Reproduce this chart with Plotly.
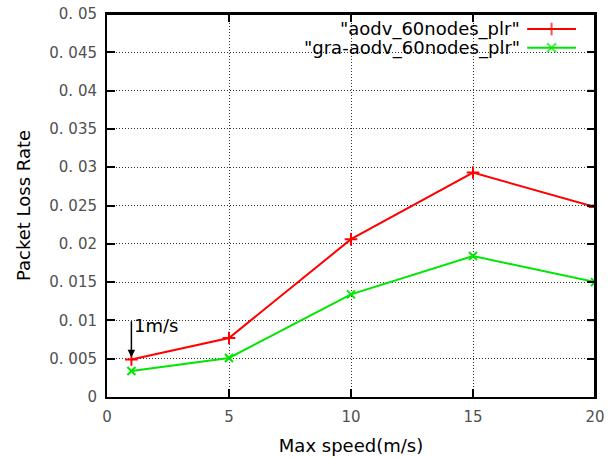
import plotly.graph_objects as go

speeds = [1, 5, 10, 15, 20]
aodv_plr = [0.0049, 0.0077, 0.0206, 0.0293, 0.0248]
gra_aodv_plr = [0.0034, 0.0051, 0.0134, 0.0184, 0.0150]
series_names = ['"aodv_60nodes_plr"', '"gra-aodv_60nodes_plr"']

x_ticks = [0, 5, 10, 15, 20]
x_ticktext = ["0", "5", "10", "15", "20"]
y_ticks = [0, 0.005, 0.01, 0.015, 0.02, 0.025, 0.03, 0.035, 0.04, 0.045, 0.05]
y_ticktext = ["0", "0. 005", "0. 01", "0. 015", "0. 02", "0. 025", "0. 03",
              "0. 035", "0. 04", "0. 045", "0. 05"]

X_RANGE = [0, 20]
Y_RANGE = [0, 0.05]

RED = "#ff0000"
GREEN = "#00e600"
TICKFONT = dict(family="DejaVu Sans", size=15, color="#505050")
TXTFONT = dict(family="DejaVu Sans", size=18, color="#000000")

fig = go.Figure()
fig.add_trace(go.Scatter(x=speeds, y=aodv_plr, mode="lines+markers", name=series_names[0],
                         line=dict(color=RED, width=2),
                         marker=dict(symbol="cross-thin", size=9, line=dict(color=RED, width=2)),
                         showlegend=False))
fig.add_trace(go.Scatter(x=speeds, y=gra_aodv_plr, mode="lines+markers", name=series_names[1],
                         line=dict(color=GREEN, width=2),
                         marker=dict(symbol="x-thin", size=8, line=dict(color=GREEN, width=2)),
                         showlegend=False))

# manual legend (text left of sample line, gnuplot style); positions as plot-area fractions
leg_fx = [0.861, 0.911, 0.961]
leg_fy = [0.961, 0.912]
def fx(f):
    return X_RANGE[0] + f * (X_RANGE[1] - X_RANGE[0])
def fy(f):
    return Y_RANGE[0] + f * (Y_RANGE[1] - Y_RANGE[0])

for name, color, sym, ly in [(series_names[0], RED, "cross-thin", leg_fy[0]),
                             (series_names[1], GREEN, "x-thin", leg_fy[1])]:
    fig.add_trace(go.Scatter(x=[fx(v) for v in leg_fx], y=[fy(ly)] * 3, mode="lines+markers",
                             line=dict(color=color, width=2),
                             marker=dict(symbol=sym, size=[0, 9, 0], line=dict(color=color, width=2)),
                             showlegend=False, hoverinfo="skip"))
    fig.add_annotation(x=0.848, y=ly, xref="paper", yref="paper", text=name, showarrow=False,
                       xanchor="right", yanchor="middle", borderpad=0, font=TXTFONT)

# arrow annotation
fig.add_annotation(x=1, y=0.0052, ax=1, ay=0.0101, xref="x", yref="y", axref="x", ayref="y",
                   text="", showarrow=True, arrowhead=2, arrowsize=1, arrowwidth=1.5,
                   arrowcolor="#000000")
fig.add_annotation(x=1.03, y=0.0094, xref="x", yref="y", text="1m/s", showarrow=False,
                   xanchor="left", yanchor="middle", font=TXTFONT)

# top/right frame and inner mirror ticks, drawn along the axis ranges
fig.add_trace(go.Scatter(x=[X_RANGE[0], X_RANGE[1], X_RANGE[1]],
                         y=[Y_RANGE[1], Y_RANGE[1], Y_RANGE[0]],
                         mode="lines", line=dict(color="#000000", width=2),
                         cliponaxis=False, showlegend=False, hoverinfo="skip"))
tick_dx = fx(8 / 488)
tick_dy = fy(8 / 383)
tx, ty = [], []
for xv in x_ticks[1:-1]:
    tx += [xv, xv, None]
    ty += [Y_RANGE[1], Y_RANGE[1] - tick_dy, None]
for yv in y_ticks[1:-1]:
    tx += [X_RANGE[1], X_RANGE[1] - tick_dx, None]
    ty += [yv, yv, None]
fig.add_trace(go.Scatter(x=tx, y=ty, mode="lines", line=dict(color="#000000", width=1.5),
                         cliponaxis=False, showlegend=False, hoverinfo="skip"))

axis_common = dict(showline=True, linecolor="#000000", linewidth=2, mirror="ticks",
                   ticks="inside", ticklen=8, tickcolor="#000000", tickwidth=1.5,
                   zeroline=False, automargin=False,
                   showgrid=True, gridcolor="#333333", gridwidth=1, griddash="1px,2px",
                   tickfont=TICKFONT, ticklabelstandoff=5, ticklabeloverflow="allow")

fig.update_layout(
    width=615, height=458,
    margin=dict(l=107, r=20, t=14, b=61),
    paper_bgcolor="white", plot_bgcolor="white",
    xaxis=dict(range=X_RANGE, tickvals=x_ticks, ticktext=x_ticktext,
               title=dict(text="Max speed(m/s)", font=TXTFONT, standoff=14), **axis_common),
    yaxis=dict(range=Y_RANGE, tickvals=y_ticks, ticktext=y_ticktext,
               title=dict(text="Packet Loss Rate", font=TXTFONT, standoff=14), **axis_common),
)

fig.write_html("out.html", config={"displayModeBar": False},
               post_script="document.body.style.margin='0';document.body.style.overflow='hidden';")
